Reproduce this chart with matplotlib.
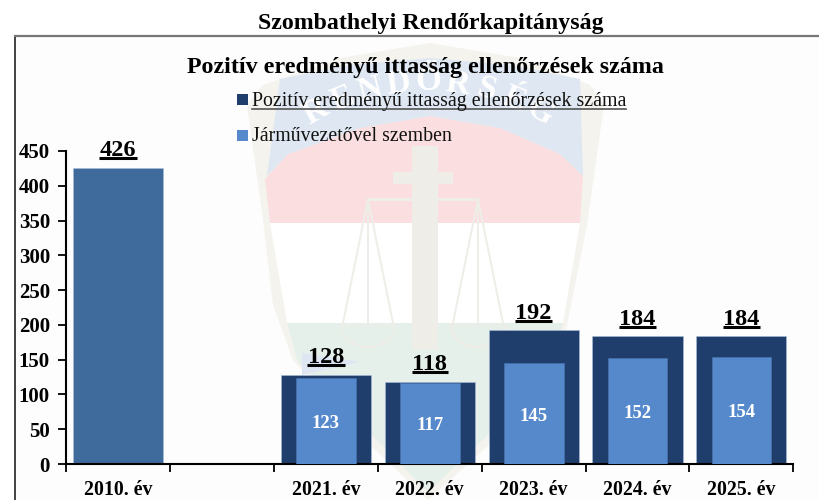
import math
import matplotlib
matplotlib.use("Agg")
import matplotlib.pyplot as plt
from matplotlib.patches import Polygon, Rectangle, Arc
from matplotlib.lines import Line2D

plt.rcParams['font.family'] = ['Liberation Serif', 'DejaVu Serif']

categories = ["2010. év", "", "2021. év", "2022. év", "2023. év", "2024. év", "2025. év"]
total_values = [426, None, 128, 118, 192, 184, 184]
driver_values = [None, None, 123, 117, 145, 152, 154]
y_ticks = [0, 50, 100, 150, 200, 250, 300, 350, 400, 450]
legend_total = "Pozitív eredményű ittasság ellenőrzések száma"
legend_driver = "Járművezetővel szemben"
main_title = "Szombathelyi Rendőrkapitányság"
sub_title = "Pozitív eredményű ittasság ellenőrzések száma"
watermark_word = "RENDŐRSÉG"

W, H = 819, 500
fig = plt.figure(figsize=(W / 100, H / 100), dpi=100, facecolor="white")


def fx(p):
    return p / W


def fy(p):
    return 1 - p / H


# page / watermark layer in pixel coordinates
bg = fig.add_axes([0, 0, 1, 1], zorder=0)
bg.set_xlim(0, W)
bg.set_ylim(H, 0)
bg.axis("off")
BEIGE = "#F4F3EE"
bg.add_patch(Rectangle((15, 36), W, H, fc="#FDFDFD", ec="none"))
# outer shield
bg.add_patch(Polygon([(247, 105), (263, 85), (340, 58), (430, 43), (520, 58), (590, 85), (604, 105),
                      (587, 225), (567, 325), (555, 365), (500, 435), (428, 500), (360, 435),
                      (293, 360), (273, 305), (263, 220)], fc=BEIGE, ec="none"))
# field: white, green, red
bg.add_patch(Polygon([(270, 223), (580, 223), (563, 323), (287, 323)], fc="#FFFFFF", ec="none"))
bg.add_patch(Polygon([(287, 323), (563, 323), (552, 362), (495, 428), (428, 492), (365, 428),
                      (298, 362)], fc="#E6F0EA", ec="none"))
bg.add_patch(Polygon([(265, 179), (288, 154), (360, 128), (430, 116), (500, 128), (560, 154), (583, 176),
                      (580, 223), (270, 223)], fc="#FBDFE0", ec="none"))
# banner
bg.add_patch(Polygon([(280, 79), (350, 65), (430, 58), (510, 65), (580, 79), (583, 176), (560, 154),
                      (500, 128), (430, 116), (360, 128), (288, 154), (267, 176)], fc="#DFE7F2", ec="none"))
bg.add_patch(Polygon([(302, 353), (360, 362), (302, 375)], fc="#DDE6F2", ec="none"))
# column, double cross and scales
bg.add_patch(Rectangle((412, 146), 26, 204, fc="#EEEDE7", ec="none"))
bg.add_patch(Rectangle((393, 172), 60, 12, fc="#EEEDE7", ec="none"))
bg.add_patch(Rectangle((368, 198), 110, 3, fc="#EEEDE7", ec="none"))
for cx in (368, 478):
    for end in (cx - 25, cx, cx + 25):
        bg.plot([cx, end], [199, 323], color="#EEEDE7", lw=1.4)
    bg.plot([cx - 27, cx + 27], [325, 325], color="#EEEDE7", lw=1.4)
    bg.add_patch(Arc((cx, 325), 54, 44, theta1=0, theta2=180, color="#EEEDE7", lw=1.6))
# curved word on the banner
n = len(watermark_word)
for k, ch in enumerate(watermark_word):
    ang = math.radians(-30 + 60 * k / (n - 1))
    bg.text(428 + 224 * math.sin(ang), 306 - 224 * math.cos(ang), ch, ha="center", va="center",
            fontsize=24, fontweight="bold", color="#FFFFFF",
            rotation=-math.degrees(ang), rotation_mode="anchor")
bg.plot([15, 15], [36, H], color="#222222", lw=1.2)
bg.plot([15, W], [35.5, 35.5], color="#777777", lw=1.6)

ax = fig.add_axes([fx(66.3), fy(464), (793.3 - 66.3) / W, (464 - 151) / H], zorder=1)
ax.patch.set_alpha(0)
positions = list(range(len(categories)))

for i, v in enumerate(total_values):
    if v is None:
        continue
    color = "#3F6A9C" if driver_values[i] is None else "#1F3E6B"
    ax.bar(i, v, width=0.868, color=color, edgecolor="#A9BEDA", linewidth=0.4, zorder=2)
    ax.annotate(str(v), (i, v), xytext=(0, 11.5), textcoords="offset pixels", ha="center", va="baseline",
                fontsize=17.5, fontweight="bold", color="black", zorder=4, gid="total")

for i, v in enumerate(driver_values):
    if v is None:
        continue
    ax.bar(i, v, width=0.575, color="#5689CB", edgecolor="#4A76B0", linewidth=0.4, zorder=3)
    ax.annotate(str(v), (i, v / 2), xytext=(0, -2.5), textcoords="offset pixels", ha="center", va="center",
                fontsize=13.5, fontweight="bold", color="white", zorder=4)

ax.set_xlim(-0.5, len(categories) - 0.5)
ax.set_ylim(0, 450)
ax.set_yticks(y_ticks)
ax.set_xticks([p - 0.5 for p in positions] + [len(categories) - 0.5])
ax.set_xticklabels([])
for s in ("top", "right"):
    ax.spines[s].set_visible(False)
for s in ("left", "bottom"):
    ax.spines[s].set_linewidth(1.5)
ax.tick_params(axis="y", length=5.5, width=1.3, pad=6.3, labelsize=15)
ax.tick_params(axis="x", length=5.5, width=1.3, direction="out")
for lab in ax.get_yticklabels():
    lab.set_fontweight("bold")
for i, c in enumerate(categories):
    ax.annotate(c, (i, 0), xycoords=("data", "axes fraction"), xytext=(0, -26),
                textcoords="offset pixels", ha="center", va="center", fontsize=14.3, fontweight="bold")

fig.text(fx(430.5), fy(23.5), main_title, ha="center", va="center", fontsize=17.2, fontweight="bold", zorder=5)
fig.text(fx(425.5), fy(67), sub_title, ha="center", va="center", fontsize=17.3, fontweight="bold", zorder=5)

lg1 = fig.text(fx(252), fy(101.5), legend_total, ha="left", va="center", fontsize=14.3, color="#111111", zorder=5)
lg2 = fig.text(fx(252), fy(136.5), legend_driver, ha="left", va="center", fontsize=14.3, color="#111111", zorder=5)
fig.add_artist(Rectangle((fx(237), fy(105)), 11 / W, 11 / H, transform=fig.transFigure, fc="#1F3E6B", ec="none", zorder=5))
fig.add_artist(Rectangle((fx(237), fy(141)), 11 / W, 11 / H, transform=fig.transFigure, fc="#5689CB", ec="none", zorder=5))

# underlines measured from the rendered text
fig.canvas.draw()
renderer = fig.canvas.get_renderer()
bb = lg1.get_window_extent(renderer)
fig.add_artist(Line2D([bb.x0 / W, bb.x1 / W], [fy(108.5)] * 2, transform=fig.transFigure, color="#555555", lw=1.2, zorder=5))
for t in ax.texts:
    if t.get_gid() == "total":
        b = t.get_window_extent(renderer)
        px = ax.transData.transform(t.xy)[1]
        y = (px + 9.5) / H
        fig.add_artist(Line2D([(b.x0 - 0.5) / W, (b.x1 + 0.5) / W], [y, y], transform=fig.transFigure,
                              color="black", lw=2.2, solid_capstyle="butt", zorder=5))

fig.savefig("out.png", dpi=100)
